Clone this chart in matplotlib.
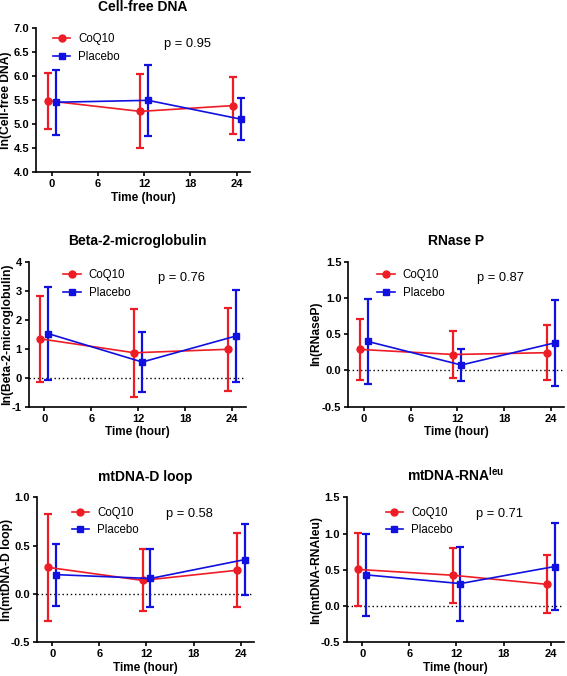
import matplotlib
matplotlib.use("Agg")
import matplotlib.pyplot as plt
import numpy as np

plt.rcParams['font.family'] = ['Liberation Sans', 'DejaVu Sans']
plt.rcParams['mathtext.fontset'] = 'custom'
plt.rcParams['mathtext.rm'] = 'Liberation Sans'
plt.rcParams['mathtext.bf'] = 'Liberation Sans:bold'

# ---- data ----
time = [0, 12, 24]
x_ticks = [0, 6, 12, 18, 24]

cfdna_coq10 = [5.48, 5.26, 5.38]
cfdna_coq10_sd = [0.58, 0.77, 0.59]
cfdna_placebo = [5.45, 5.49, 5.10]
cfdna_placebo_sd = [0.68, 0.74, 0.44]

b2m_coq10 = [1.34, 0.86, 0.98]
b2m_coq10_sd = [1.49, 1.51, 1.44]
b2m_placebo = [1.52, 0.54, 1.44]
b2m_placebo_sd = [1.60, 1.02, 1.60]

rnasep_coq10 = [0.29, 0.22, 0.245]
rnasep_coq10_sd = [0.42, 0.33, 0.38]
rnasep_placebo = [0.40, 0.075, 0.38]
rnasep_placebo_sd = [0.58, 0.22, 0.59]

dloop_coq10 = [0.275, 0.14, 0.245]
dloop_coq10_sd = [0.55, 0.32, 0.385]
dloop_placebo = [0.20, 0.16, 0.355]
dloop_placebo_sd = [0.32, 0.30, 0.365]

rnaleu_coq10 = [0.505, 0.425, 0.30]
rnaleu_coq10_sd = [0.50, 0.38, 0.40]
rnaleu_placebo = [0.43, 0.31, 0.545]
rnaleu_placebo_sd = [0.57, 0.51, 0.60]

red = '#ee1c25'
blue = '#1010e0'
shift = 0.5  # hours, so the two groups don't overlap

W, H = 567, 676


def draw_panel(ax, coq, coq_sd, pla, pla_sd, title, ylabel, yticks, yfmt, pval,
               leg_xy, ylab_px, zero_line=True):
    t = np.array(time, dtype=float)
    ax.errorbar(t - shift, coq, yerr=coq_sd, fmt='none', ecolor=red, elinewidth=1.6,
                capsize=2.6, capthick=1.6, zorder=2)
    ax.errorbar(t + shift, pla, yerr=pla_sd, fmt='none', ecolor=blue, elinewidth=1.6,
                capsize=2.6, capthick=1.6, zorder=2)
    ax.plot(t - shift, coq, color=red, marker='o', markersize=5, lw=1.2, label='CoQ10', zorder=3)
    ax.plot(t + shift, pla, color=blue, marker='s', markersize=5, lw=1.2, label='Placebo', zorder=3)
    if zero_line:
        ax.axhline(0, color='black', ls=(0, (1, 2)), lw=1, zorder=1)

    ax.set_xlim(-2, 25.7)
    ax.set_ylim(yticks[0], yticks[-1])
    ax.set_xticks(x_ticks)
    ax.set_yticks(yticks)
    ax.set_yticklabels([yfmt.format(v) for v in yticks])
    for sp in ['top', 'right']:
        ax.spines[sp].set_visible(False)
    for sp in ['left', 'bottom']:
        ax.spines[sp].set_linewidth(1.2)
    ax.tick_params(direction='out', length=3, width=1.2, labelsize=8, pad=2)
    for lab in ax.get_xticklabels() + ax.get_yticklabels():
        lab.set_fontweight('bold')

    ax.set_title(title, fontsize=10, fontweight='bold', pad=12)
    ax.set_xlabel('Time (hour)', fontsize=8.5, fontweight='bold', labelpad=2)
    ax.set_ylabel(ylabel, fontsize=8.7, fontweight='bold')
    # put the y label centre at a fixed pixel column, like the original
    pos = ax.get_position()
    ax.yaxis.label.set_va('center')
    ax.yaxis.set_label_coords((ylab_px / W - pos.x0) / pos.width, 0.5)

    ax.text(0.597, 0.886, 'p = ' + pval, transform=ax.transAxes, fontsize=9.3,
            va='center', ha='left')
    ax.legend(loc='upper left', bbox_to_anchor=leg_xy, frameon=False, fontsize=8.3,
              handlelength=1.5, handletextpad=0.7, labelspacing=0.5,
              borderpad=0, borderaxespad=0)


fig = plt.figure(figsize=(W / 100, H / 100), dpi=100)


def px_axes(left, right, top, bottom):
    return fig.add_axes([left / W, 1 - bottom / H, (right - left) / W, (bottom - top) / H])


ax1 = px_axes(36.3, 249.8, 27.7, 172)
ax2 = px_axes(28.6, 245.6, 261.7, 406.7)
ax3 = px_axes(348.4, 563.9, 261.7, 406.7)
ax4 = px_axes(36.6, 254, 497.3, 642.3)
ax5 = px_axes(346.6, 564, 497.3, 642.3)

draw_panel(ax1, cfdna_coq10, cfdna_coq10_sd, cfdna_placebo, cfdna_placebo_sd,
           'Cell-free DNA', 'ln(Cell-free DNA)', [4.0, 4.5, 5.0, 5.5, 6.0, 6.5, 7.0], '{:.1f}',
           '0.95', (0.078, 0.961), 6.5, zero_line=False)
draw_panel(ax2, b2m_coq10, b2m_coq10_sd, b2m_placebo, b2m_placebo_sd,
           'Beta-2-microglobulin', 'ln(Beta-2-microglobulin)', [-1, 0, 1, 2, 3, 4], '{:.0f}',
           '0.76', (0.16, 0.951), 7)
draw_panel(ax3, rnasep_coq10, rnasep_coq10_sd, rnasep_placebo, rnasep_placebo_sd,
           'RNase P', 'ln(RNaseP)', [-0.5, 0.0, 0.5, 1.0, 1.5], '{:.1f}', '0.87',
           (0.134, 0.951), 316)
draw_panel(ax4, dloop_coq10, dloop_coq10_sd, dloop_placebo, dloop_placebo_sd,
           'mtDNA-D loop', 'ln(mtDNA-D loop)', [-0.5, 0.0, 0.5, 1.0], '{:.1f}', '0.58',
           (0.161, 0.935), 7)
draw_panel(ax5, rnaleu_coq10, rnaleu_coq10_sd, rnaleu_placebo, rnaleu_placebo_sd,
           r'mtDNA-RNA$^{\mathbf{leu}}$', 'ln(mtDNA-RNAleu)', [-0.5, 0.0, 0.5, 1.0, 1.5], '{:.1f}',
           '0.71', (0.18, 0.935), 316)

fig.savefig('out.png', dpi=100)
